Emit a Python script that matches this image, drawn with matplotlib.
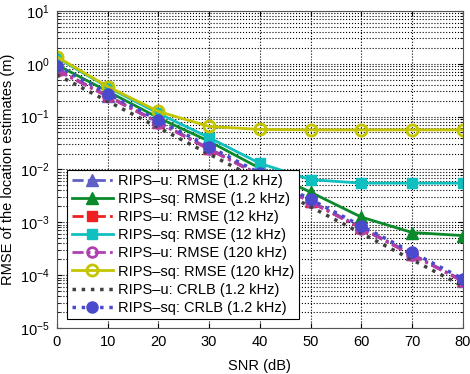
import matplotlib
matplotlib.use("Agg")
import matplotlib.pyplot as plt
from matplotlib.ticker import LogLocator, NullFormatter, FixedLocator

plt.rcParams["font.family"] = ["Liberation Sans", "DejaVu Sans"]
plt.rcParams["font.size"] = 10.5

snr = [0, 10, 20, 30, 40, 50, 60, 70, 80]

u_rmse_1k2 = [0.78, 0.25, 0.079, 0.025, 0.0079, 0.0025, 0.00080, 0.00025, 0.000079]
sq_rmse_1k2 = [0.95, 0.30, 0.095, 0.034, 0.0105, 0.0037, 0.00125, 0.00064, 0.00056]
u_rmse_12k = [0.76, 0.24, 0.077, 0.024, 0.0077, 0.0024, 0.00077, 0.00024, 0.000077]
sq_rmse_12k = [1.30, 0.36, 0.115, 0.040, 0.0130, 0.0064, 0.0055, 0.0055, 0.0055]
u_rmse_120k = [0.74, 0.24, 0.076, 0.024, 0.0076, 0.0024, 0.00076, 0.00024, 0.000076]
sq_rmse_120k = [1.35, 0.37, 0.125, 0.065, 0.057, 0.056, 0.056, 0.056, 0.056]
u_crlb_1k2 = [0.62, 0.195, 0.062, 0.0195, 0.0062, 0.00195, 0.00062, 0.000195, 0.000062]
sq_crlb_1k2 = [0.92, 0.27, 0.085, 0.027, 0.0085, 0.0027, 0.00085, 0.00027, 0.000085]

labels = [
    "RIPS\u2013u: RMSE (1.2 kHz)",
    "RIPS\u2013sq: RMSE (1.2 kHz)",
    "RIPS\u2013u: RMSE (12 kHz)",
    "RIPS\u2013sq: RMSE (12 kHz)",
    "RIPS\u2013u: RMSE (120 kHz)",
    "RIPS\u2013sq: RMSE (120 kHz)",
    "RIPS\u2013u: CRLB (1.2 kHz)",
    "RIPS\u2013sq: CRLB (1.2 kHz)",
]

fig = plt.figure(figsize=(4.7, 3.74), dpi=100)
ax = fig.add_axes([0.121, 0.123, 0.864, 0.848])

lw = 2.0
dashdot = (0, (4, 1.5, 1, 1.5))
ax.plot(snr, u_rmse_1k2, color="#6060c4", ls=dashdot, lw=lw, marker="^", ms=8, label=labels[0])
ax.plot(snr, sq_rmse_1k2, color="#0a8a2a", ls="-", lw=lw, marker="^", ms=8, label=labels[1])
ax.plot(snr, u_rmse_12k, color="#ee2020", ls=dashdot, lw=lw, marker="s", ms=7, label=labels[2])
ax.plot(snr, sq_rmse_12k, color="#10bfbf", ls="-", lw=lw, marker="s", ms=7, label=labels[3])
ax.plot(snr, u_rmse_120k, color="#b040b0", ls=dashdot, lw=lw, marker="o", ms=7,
        mfc="none", mew=2, label=labels[4])
ax.plot(snr, sq_rmse_120k, color="#c4c400", ls="-", lw=lw, marker="o", ms=8,
        mfc="none", mew=2, label=labels[5])
ax.plot(snr, u_crlb_1k2, color="#404040", ls=":", lw=2.5, label=labels[6])
ax.plot(snr, sq_crlb_1k2, color="#4a4acc", ls=":", lw=2.5, marker="o", ms=8, label=labels[7])

ax.set_yscale("log")
ax.set_xlim(0, 80)
ax.set_ylim(1e-5, 1e1)
ax.set_xticks(snr)
ax.yaxis.set_major_locator(LogLocator(base=10, numticks=10))
minor = [m * 10.0 ** e for e in range(-5, 1) for m in range(2, 10)]
ax.yaxis.set_minor_locator(FixedLocator(minor))
ax.yaxis.set_minor_formatter(NullFormatter())
ax.tick_params(which="both", direction="in", top=True, right=True, pad=5)
ax.grid(True, which="major", ls=":", color="black", lw=0.8)
ax.grid(True, which="minor", axis="y", ls=":", color="black", lw=0.8)

ax.set_xlabel("SNR (dB)", labelpad=7)
ax.set_ylabel("RMSE of the location estimates (m)")
for s in ax.spines.values():
    s.set_color("#555555")

leg = ax.legend(loc="lower left", bbox_to_anchor=(0.008, 0.005), fancybox=False,
                framealpha=1, edgecolor="black", handlelength=2.8,
                labelspacing=0.28, borderpad=0.3, handletextpad=0.4, fontsize=10.5)
leg.get_frame().set_linewidth(0.8)

fig.savefig("out.png", dpi=100)
plt.close(fig)
